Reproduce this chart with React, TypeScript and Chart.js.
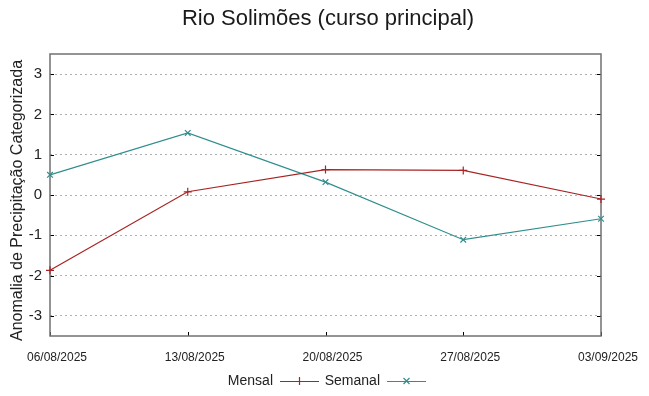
import React, { useEffect, useRef } from "react";
import { Chart, registerables } from "chart.js";

Chart.register(...registerables);

const chartTitle = "Rio Solimões (curso principal)";
const yAxisTitle = "Anomalia de Precipitação Categorizada";
const categories = ["06/08/2025", "13/08/2025", "20/08/2025", "27/08/2025", "03/09/2025"];
const mensal = [-1.87, 0.08, 0.63, 0.61, -0.1];
const semanal = [0.5, 1.54, 0.32, -1.11, -0.59];
const yTicks = [-3, -2, -1, 0, 1, 2, 3];
const seriesNames = ["Mensal", "Semanal"];
const seriesColors = ["#a82424", "#328e8e"];
const seriesMarkers = ["cross", "crossRot"];

const FONT = "'Liberation Sans', Arial, sans-serif";

const framePlugin = {
  id: "frame",
  beforeDatasetsDraw(chart: any) {
    const { ctx, chartArea } = chart;
    const { left, right, top, bottom } = chartArea;
    ctx.save();
    ctx.strokeStyle = "#000";
    ctx.lineWidth = 1;
    const ys = chart.scales.y;
    ys.ticks.forEach((t: any) => {
      const py = Math.round(ys.getPixelForValue(t.value)) + 0.5;
      ctx.beginPath();
      ctx.moveTo(left, py);
      ctx.lineTo(left + 4, py);
      ctx.moveTo(right, py);
      ctx.lineTo(right - 4, py);
      ctx.stroke();
    });
    const xs = chart.scales.x;
    xs.ticks.forEach((_t: any, i: number) => {
      const px = Math.round(xs.getPixelForTick(i)) + 0.5;
      ctx.beginPath();
      ctx.moveTo(px, bottom);
      ctx.lineTo(px, bottom - 4);
      ctx.stroke();
    });
    ctx.strokeStyle = "#707070";
    ctx.lineWidth = 1.5;
    ctx.strokeRect(left, top, right - left, bottom - top);
    ctx.restore();
  },
  afterDraw(chart: any) {
    const { ctx } = chart;
    ctx.save();
    ctx.fillStyle = "#1a1a1a";
    ctx.font = `22px ${FONT}`;
    ctx.textAlign = "center";
    ctx.textBaseline = "middle";
    ctx.fillText(chartTitle, 328, 19);

    // y axis title
    ctx.save();
    ctx.translate(18, 200.5);
    ctx.rotate(-Math.PI / 2);
    ctx.font = `16px ${FONT}`;
    ctx.fillStyle = "#222";
    ctx.fillText(yAxisTitle, 0, 0);
    ctx.restore();

    // legend (gnuplot style: text then line sample)
    ctx.font = `14px ${FONT}`;
    ctx.textAlign = "right";
    const ly = 381;
    const textRights = [273, 380];
    chart.data.datasets.forEach((ds: any, i: number) => {
      const tr = textRights[i];
      ctx.fillStyle = "#222";
      ctx.fillText(ds.label, tr, ly);
      const x0 = tr + 7;
      const x1 = x0 + 39;
      const mx = (x0 + x1) / 2;
      ctx.strokeStyle = ds.borderColor;
      ctx.lineWidth = 1.2;
      ctx.beginPath();
      ctx.moveTo(x0, ly + 0.5);
      ctx.lineTo(x1, ly + 0.5);
      ctx.stroke();
      ctx.beginPath();
      if (ds.pointStyle === "cross") {
        ctx.moveTo(mx, ly - 4);
        ctx.lineTo(mx, ly + 4);
      } else {
        ctx.moveTo(mx - 3, ly - 3);
        ctx.lineTo(mx + 3, ly + 3);
        ctx.moveTo(mx - 3, ly + 3);
        ctx.lineTo(mx + 3, ly - 3);
      }
      ctx.stroke();
    });
    ctx.restore();
  },
};

export default function App() {
  const ref = useRef<HTMLCanvasElement>(null);
  useEffect(() => {
    document.body.style.margin = "0";
    const seriesValues = [mensal, semanal];
    const chart = new Chart(ref.current as HTMLCanvasElement, {
      type: "line",
      data: {
        labels: categories,
        datasets: seriesNames.map((name, i) => ({
          label: name,
          data: seriesValues[i],
          borderColor: seriesColors[i],
          backgroundColor: seriesColors[i],
          borderWidth: 1.2,
          pointStyle: seriesMarkers[i] as any,
          pointRadius: 4,
          pointBorderWidth: 1.2,
          pointHoverRadius: 4,
          tension: 0,
          fill: false,
        })),
      },
      options: {
        animation: false,
        responsive: false,
        devicePixelRatio: 1,
        layout: { padding: { left: 0, right: 48, top: 54, bottom: 0 } },
        plugins: {
          legend: { display: false },
          title: { display: false },
          tooltip: { enabled: false },
        },
        scales: {
          x: {
            type: "category",
            offset: false,
            grid: { display: false, drawTicks: false },
            border: { display: false },
            ticks: {
              autoSkip: false,
              maxRotation: 0,
              padding: 14,
              labelOffset: 7,
              color: "#222",
              font: { family: FONT, size: 12 },
            },
            afterFit(scale: any) {
              scale.height = 60;
            },
          },
          y: {
            type: "linear",
            min: -3.5,
            max: 3.5,
            grid: {
              color: "#b0b0b0",
              lineWidth: 1,
              drawTicks: false,
            },
            border: { display: false, dash: [2, 3] },
            afterBuildTicks(scale: any) {
              scale.ticks = yTicks.map((v) => ({ value: v }));
            },
            ticks: {
              padding: 8,
              color: "#222",
              font: { family: FONT, size: 15 },
            },
            title: { display: false },
            afterFit(scale: any) {
              scale.width = 50;
            },
          },
        },
      },
      plugins: [framePlugin],
    });
    return () => chart.destroy();
  }, []);
  return (
    <div style={{ position: "absolute", left: 0, top: 0, width: 649, height: 396 }}>
      <canvas ref={ref} width={649} height={396} style={{ width: 649, height: 396 }} />
    </div>
  );
}
